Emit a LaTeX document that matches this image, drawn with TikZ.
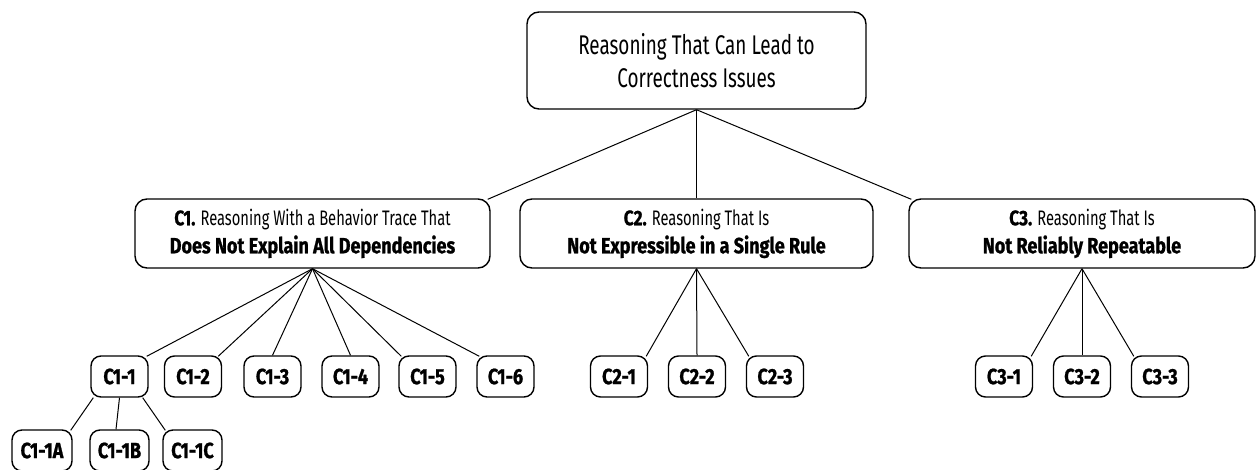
\documentclass[tikz,border=0pt]{standalone}
\usepackage{fontspec}
\setmainfont{Fira Sans}[FakeStretch=0.7, BoldFeatures={FakeStretch=0.82, FakeBold=1}]
\begin{document}
\begin{tikzpicture}[x=1pt,y=-1pt,
  box/.style={draw, line width=1.4pt, rounded corners=12pt, inner sep=0pt, align=center},
  catbox/.style={box, minimum width=#1, minimum height=69pt, font=\fontsize{21}{28}\selectfont},
  leaf/.style={draw, line width=1.4pt, rounded corners=10pt, inner sep=0pt,
    minimum width=#1, minimum height=41pt, font=\fontsize{22}{24}\selectfont\bfseries},
  leaf/.default=57pt,
  link/.style={line width=1pt}]
\fill[white] (0,0) rectangle (1256,469);
\useasboundingbox (0,0) rectangle (1256,469);

% root
\node[box, minimum width=339pt, minimum height=97pt, font=\fontsize{27}{33}\selectfont]
  (root) at (696.5,60.5) {Reasoning That Can Lead to\\Correctness Issues};

% categories
\newcommand\emphline[1]{{\fontsize{22}{28}\selectfont\bfseries #1}}
\node[catbox=355pt] (c1) at (312.5,233.5)
  {\textbf{C1.} Reasoning With a Behavior Trace That\\\emphline{Does Not Explain All Dependencies}};
\node[catbox=353pt] (c2) at (696.5,233.5)
  {\textbf{C2.} Reasoning That Is\\\emphline{Not Expressible in a Single Rule}};
\node[catbox=346pt] (c3) at (1082,233.5)
  {\textbf{C3.} Reasoning That Is\\\emphline{Not Reliably Repeatable}};

% C1 leaves
\node[leaf] (c11) at (119.5,376.5) {C1-1};
\node[leaf] (c12) at (193,376.5) {C1-2};
\node[leaf] (c13) at (272.5,376.5) {C1-3};
\node[leaf] (c14) at (350.5,376.5) {C1-4};
\node[leaf] (c15) at (427.5,376.5) {C1-5};
\node[leaf] (c16) at (505.5,376.5) {C1-6};

% C1-1 sub-leaves
\node[leaf=60pt] (c11a) at (42,450.5) {C1-1A};
\node[leaf=59pt] (c11b) at (119.5,450.5) {C1-1B};
\node[leaf=59pt] (c11c) at (192.5,450.5) {C1-1C};

% C2 leaves
\node[leaf] (c21) at (619,376.5) {C2-1};
\node[leaf] (c22) at (697,376.5) {C2-2};
\node[leaf] (c23) at (775,376.5) {C2-3};

% C3 leaves
\node[leaf] (c31) at (1004,376.5) {C3-1};
\node[leaf] (c32) at (1082,376.5) {C3-2};
\node[leaf] (c33) at (1160,376.5) {C3-3};

% root links
\draw[link] (root.south) -- ([shift={(-3,1)}]c1.north east);
\draw[link] (root.south) -- (c2.north);
\draw[link] (root.south) -- ([shift={(3,1)}]c3.north west);

% C1 links
\draw[link] (c1.south) -- ([shift={(-2,1)}]c11.north east);
\draw[link] (c1.south) -- ([shift={(-4,1)}]c12.north east);
\draw[link] (c1.south) -- (c13.north);
\draw[link] (c1.south) -- (c14.north);
\draw[link] (c1.south) -- ([shift={(3,1)}]c15.north west);
\draw[link] (c1.south) -- ([shift={(3,1)}]c16.north west);

% C1-1 links
\draw[link] ([shift={(3,0)}]c11.south west) -- ([shift={(-2,1)}]c11a.north east);
\draw[link] (c11.south) -- ([shift={(-3.5,0)}]c11b.north);
\draw[link] ([shift={(-6,0)}]c11.south east) -- ([shift={(3,1)}]c11c.north west);

% C2 links
\draw[link] (c2.south) -- ([shift={(-2,1)}]c21.north east);
\draw[link] (c2.south) -- (c22.north);
\draw[link] (c2.south) -- ([shift={(3,1)}]c23.north west);

% C3 links
\draw[link] (c3.south) -- ([shift={(-2,1)}]c31.north east);
\draw[link] (c3.south) -- (c32.north);
\draw[link] (c3.south) -- ([shift={(3,1)}]c33.north west);
\end{tikzpicture}
\end{document}
